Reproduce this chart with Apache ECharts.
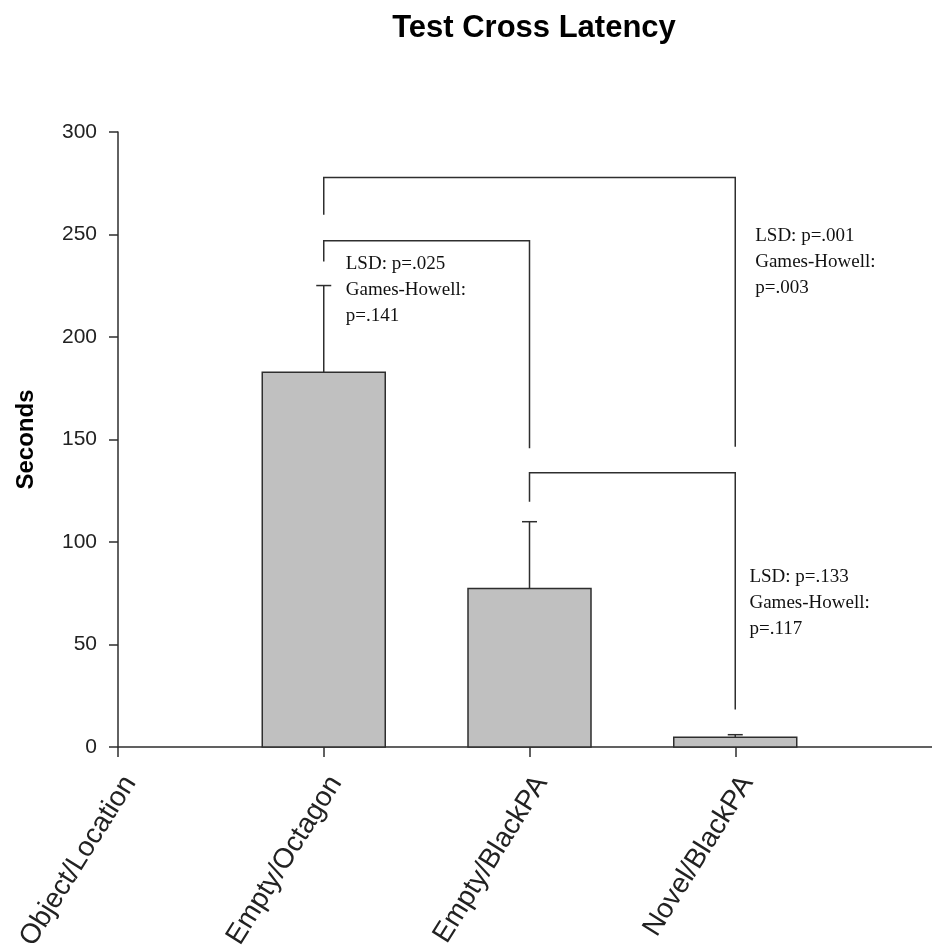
<!DOCTYPE html>
<html>
<head>
<meta charset="utf-8">
<script src="https://cdn.jsdelivr.net/npm/echarts@6/dist/echarts.min.js"></script>
<style>html,body{margin:0;padding:0;background:#fff}#c{width:932px;height:951px}</style>
</head>
<body>
<div id="c"></div>
<script>
const categories = ['Object/Location', 'Empty/Octagon', 'Empty/BlackPA', 'Novel/BlackPA'];
const means = [null, 182.8, 77.3, 4.7];
const errorTops = [null, 225.1, 109.9, 6.0];
const yTicks = [0, 50, 100, 150, 200, 250, 300];
// brackets: [fromIndex, toIndex, topValue, leftEndValue, rightEndValue]
const brackets = [
  [1, 2, 246.9, 236.8, 145.7],
  [1, 3, 277.8, 259.6, 146.5],
  [2, 3, 133.8, 119.6, 18.3]
];
// annotations: [xPosition (category units), yValue (text top), text]
const annotations = [
  [1.107, 242.0, 'LSD: p=.025\nGames-Howell:\np=.141'],
  [3.097, 255.4, 'LSD: p=.001\nGames-Howell:\np=.003'],
  [3.069, 89.1, 'LSD: p=.133\nGames-Howell:\np=.117']
];

const LINE = '#2e2e2e';
const chart = echarts.init(document.getElementById('c'), null, {renderer: 'canvas'});

const barData = categories.map((c, i) => [i, means[i] == null ? '-' : means[i]]);
const errData = categories.map((c, i) => [i, means[i] == null ? '-' : means[i], errorTops[i] == null ? '-' : errorTops[i]]);

chart.setOption({
  animation: false,
  backgroundColor: '#fff',
  title: {
    text: 'Test Cross Latency',
    left: 529, top: 8, textAlign: 'center',
    textStyle: {fontFamily: 'Liberation Sans', fontWeight: 'bold', fontSize: 31, color: '#000'}
  },
  grid: {left: 118, width: 823, top: 132, bottom: 204, containLabel: false, outerBoundsMode: 'none'},
  xAxis: {
    type: 'value', min: 0, max: 4, interval: 1,
    axisLine: {show: true, onZero: false, lineStyle: {color: LINE, width: 1.5}},
    axisTick: {show: true, inside: false, length: 10, lineStyle: {color: LINE, width: 1.5}},
    splitLine: {show: false},
    axisLabel: {
      rotate: 58, margin: 24, fontSize: 28, fontFamily: 'Liberation Sans', color: '#222',
      verticalAlign: 'top',
      showMaxLabel: false,
      formatter: v => (Number.isInteger(v) && categories[v] !== undefined) ? categories[v] : ''
    }
  },
  yAxis: {
    type: 'value', min: yTicks[0], max: yTicks[yTicks.length - 1], interval: yTicks[1] - yTicks[0],
    name: 'Seconds', nameLocation: 'middle', nameRotate: 90, nameGap: 80,
    nameTextStyle: {fontFamily: 'Liberation Sans', fontWeight: 'bold', fontSize: 24, color: '#000'},
    axisLine: {show: true, lineStyle: {color: LINE, width: 1.5}},
    axisTick: {show: true, inside: false, length: 9, lineStyle: {color: LINE, width: 1.5}},
    splitLine: {show: false},
    axisLabel: {margin: 21, fontSize: 21, fontFamily: 'Liberation Sans', color: '#222'}
  },
  series: [
    {
      type: 'custom', name: 'bars', data: barData, z: 2,
      renderItem: (params, api) => {
        const v = api.value(1);
        if (isNaN(v)) return null;
        const p0 = api.coord([api.value(0), 0]);
        const p1 = api.coord([api.value(0), v]);
        const w = 123;
        return {
          type: 'rect',
          shape: {x: p0[0] - w / 2, y: p1[1], width: w, height: p0[1] - p1[1]},
          style: {fill: '#c0c0c0', stroke: LINE, lineWidth: 1.5}
        };
      }
    },
    {
      type: 'custom', name: 'errors', data: errData, z: 3,
      renderItem: (params, api) => {
        const m = api.value(1), e = api.value(2);
        if (isNaN(m) || isNaN(e)) return null;
        const a = api.coord([api.value(0), m]);
        const b = api.coord([api.value(0), e]);
        return {
          type: 'group',
          children: [
            {type: 'line', shape: {x1: a[0], y1: a[1], x2: b[0], y2: b[1]}, style: {stroke: LINE, lineWidth: 1.5}},
            {type: 'line', shape: {x1: b[0] - 7.5, y1: b[1], x2: b[0] + 7.5, y2: b[1]}, style: {stroke: LINE, lineWidth: 1.5}}
          ]
        };
      }
    },
    {
      type: 'custom', name: 'brackets', data: brackets, z: 3,
      renderItem: (params, api) => {
        const x1 = api.value(0), x2 = api.value(1), top = api.value(2), l = api.value(3), r = api.value(4);
        const pts = [api.coord([x1, l]), api.coord([x1, top]), api.coord([x2, top]), api.coord([x2, r])];
        return {type: 'polyline', shape: {points: pts}, style: {stroke: LINE, lineWidth: 1.5, fill: null}};
      }
    },
    {
      type: 'custom', name: 'annotations', data: annotations, z: 4,
      renderItem: (params, api) => {
        const d = annotations[params.dataIndex];
        const p = api.coord([d[0], d[1]]);
        return {
          type: 'text', x: p[0], y: p[1],
          style: {text: d[2], fontFamily: 'Liberation Serif', fontSize: 19, lineHeight: 26, fill: '#111', align: 'left', verticalAlign: 'top'}
        };
      }
    }
  ]
});
</script>
</body>
</html>
